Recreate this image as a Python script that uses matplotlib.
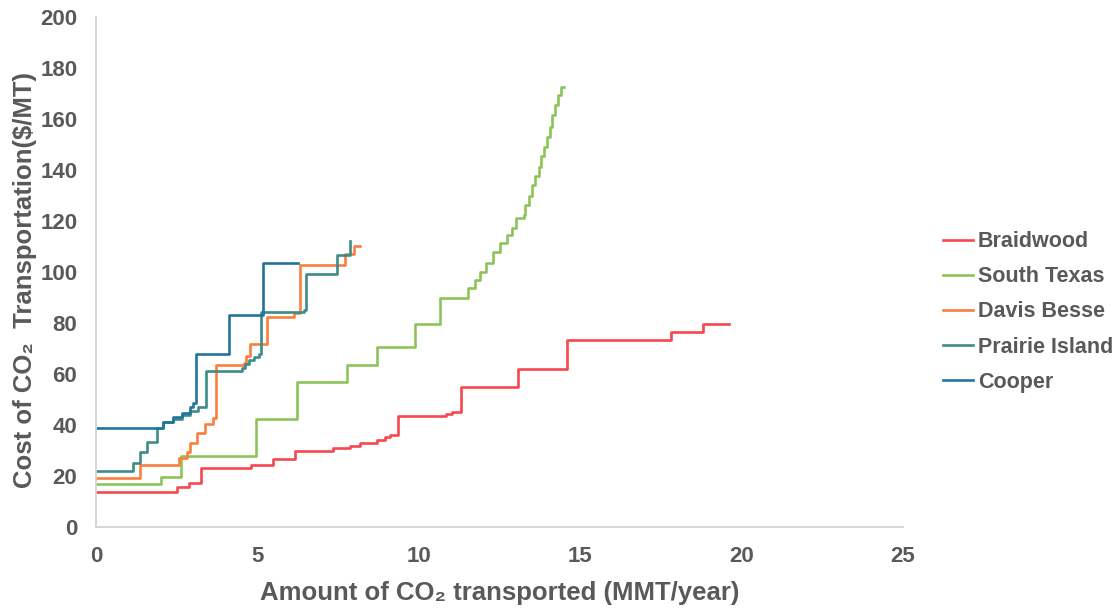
import matplotlib
matplotlib.use("Agg")
import matplotlib.pyplot as plt

plt.rcParams['font.family'] = ['Liberation Sans', 'DejaVu Sans']
plt.rcParams['font.weight'] = 'bold'

# cumulative amount transported (MMT/year) where each cost step starts, and the cost ($/MT)
braidwood_x = [0, 2.50, 2.89, 3.26, 4.80, 5.48, 6.17, 7.34, 7.88, 8.19, 8.70, 8.96, 9.10,
               9.37, 10.85, 11.03, 11.32, 13.06, 14.59, 17.80, 18.80, 19.60]
braidwood_y = [13.6, 15.8, 17.4, 23.0, 24.3, 26.7, 29.8, 30.9, 31.8, 32.8, 34.1, 35.4, 36.1,
               43.5, 44.3, 45.2, 55.0, 61.8, 73.3, 76.5, 79.5, 79.5]

south_texas_x = [0, 2.0, 2.63, 4.96, 6.22, 7.77, 8.70, 9.87, 10.65,
                 11.51, 11.75, 11.91, 12.09, 12.30, 12.53, 12.73, 12.89, 13.02, 13.25, 13.30,
                 13.41, 13.51, 13.61, 13.72, 13.80, 13.89, 13.98, 14.06, 14.13, 14.23, 14.32,
                 14.39, 14.49]
south_texas_y = [16.7, 19.5, 27.7, 42.4, 56.7, 63.5, 70.7, 79.5, 89.7,
                 93.6, 96.9, 100.1, 103.4, 108.0, 111.3, 114.5, 117.1, 121.1, 122.4, 126.3,
                 129.8, 134.1, 137.6, 141.3, 145.5, 149.1, 153.1, 157.0, 161.6, 165.5, 169.4,
                 172.7, 172.7]

davis_besse_x = [0, 1.36, 2.58, 2.81, 2.91, 3.12, 3.38, 3.64, 3.71, 4.57, 4.66, 4.78,
                 5.29, 6.12, 6.33, 7.72, 8.0, 8.19]
davis_besse_y = [19.1, 24.3, 26.9, 29.5, 32.8, 37.0, 40.4, 42.6, 63.5, 64.5, 67.0, 71.6,
                 82.5, 83.8, 102.7, 106.9, 110.0, 110.0]

prairie_island_x = [0, 1.14, 1.36, 1.59, 1.88, 2.07, 2.40, 2.66, 2.91, 3.15, 3.41, 4.52,
                    4.62, 4.75, 4.90, 5.05, 5.12, 6.43, 6.51, 7.48, 7.88]
prairie_island_y = [22.1, 25.0, 29.5, 33.5, 39.0, 41.0, 42.5, 44.0, 45.5, 47.2, 61.0, 62.2,
                    64.0, 65.5, 66.8, 68.0, 84.4, 85.1, 99.3, 106.8, 112.3]

cooper_x = [0, 2.07, 2.40, 2.66, 2.91, 3.02, 3.10, 4.12, 5.18, 6.25]
cooper_y = [39.0, 41.0, 43.3, 44.6, 47.2, 48.5, 68.0, 83.0, 103.5, 103.5]

series = [
    ("Braidwood", braidwood_x, braidwood_y, "#F5484F"),
    ("South Texas", south_texas_x, south_texas_y, "#8DC45A"),
    ("Davis Besse", davis_besse_x, davis_besse_y, "#FA7F3E"),
    ("Prairie Island", prairie_island_x, prairie_island_y, "#3C8C88"),
    ("Cooper", cooper_x, cooper_y, "#22749B"),
]

x_ticks = [0, 5, 10, 15, 20, 25]
y_ticks = [0, 20, 40, 60, 80, 100, 120, 140, 160, 180, 200]

text_grey = "#595959"
spine_grey = "#D3D3D3"

fig = plt.figure(figsize=(11.2, 6.1), dpi=100, facecolor='white')
ax = fig.add_axes([96 / 1120, 1 - 527 / 610, (903 - 96) / 1120, (527 - 17) / 610])

for name, xs, ys, color in series:
    ax.step(xs, ys, where='post', color=color, linewidth=1.9, label=name)

ax.set_xlim(0, 25)
ax.set_ylim(0, 200)
ax.set_xticks(x_ticks)
ax.set_yticks(y_ticks)
ax.tick_params(axis='both', length=0, labelsize=16, labelcolor=text_grey)
ax.tick_params(axis='x', pad=14)
ax.tick_params(axis='y', pad=13.5)
for lbl in ax.get_xticklabels() + ax.get_yticklabels():
    lbl.set_fontweight('bold')

for side in ('top', 'right'):
    ax.spines[side].set_visible(False)
for side in ('left', 'bottom'):
    ax.spines[side].set_color(spine_grey)
    ax.spines[side].set_linewidth(1.3)

ax.set_xlabel("Amount of CO₂ transported (MMT/year)", fontsize=18.5, fontweight='bold',
              color=text_grey, labelpad=10)
ax.set_ylabel("Cost of CO₂  Transportation($/MT)", fontsize=18.5, fontweight='bold',
              color=text_grey)
ax.yaxis.set_label_coords(-0.073, 0.484)

leg = ax.legend(loc='center left', bbox_to_anchor=(1.025, 0.4216), frameon=False,
                prop={'size': 15.5, 'weight': 'bold'}, handlelength=1.4, handletextpad=0.25,
                labelspacing=0.66)
for txt in leg.get_texts():
    txt.set_color(text_grey)

fig.savefig("out.png", dpi=100, facecolor='white')
